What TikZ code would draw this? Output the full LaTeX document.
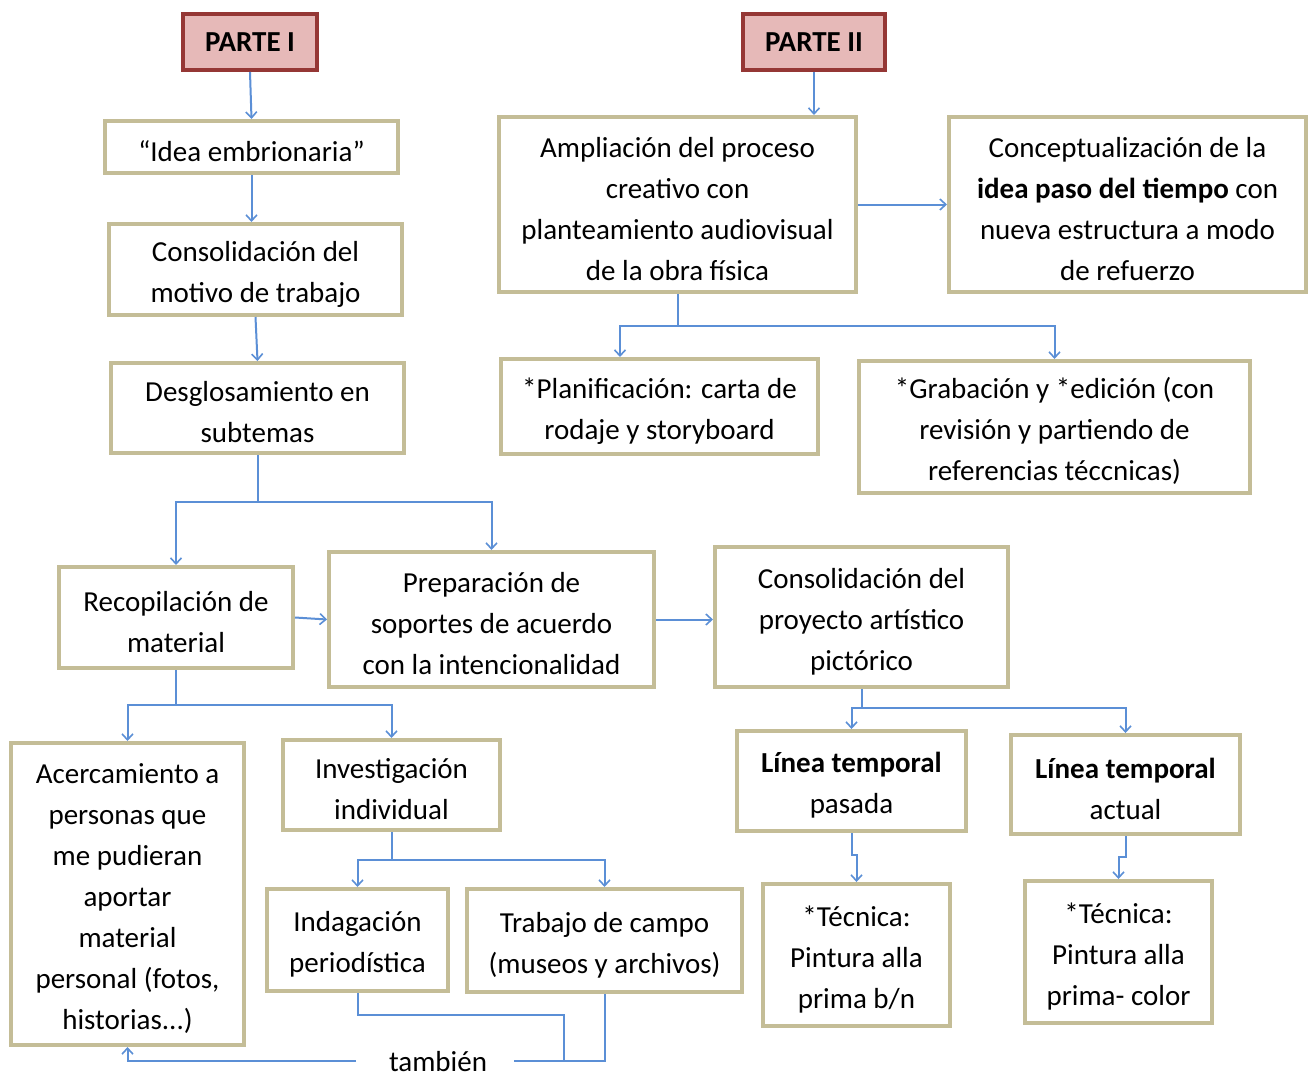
\documentclass[tikz,border=0pt]{standalone}
\usepackage{fontspec}
\setmainfont{Carlito}
\usetikzlibrary{arrows.meta}
\definecolor{tanb}{HTML}{C4BD97}
\definecolor{redb}{HTML}{953735}
\definecolor{redf}{HTML}{E6B9B8}
\definecolor{conb}{HTML}{5B8FD6}
\newcommand\tstr{\rule{0pt}{29pt}}
\begin{document}
\begin{tikzpicture}[x=1pt,y=-1pt,
  tbox/.style={draw=tanb, line width=4pt, fill=white, inner sep=0pt, align=center,
    font=\fontsize{29}{41}\selectfont},
  pbox/.style={draw=redb, line width=4pt, fill=redf, inner sep=0pt, align=center,
    font=\fontsize{29}{41}\selectfont\bfseries},
  conn/.style={draw=conb, line width=2pt, -{Straight Barb[length=6pt,width=11pt,line width=1.6pt]}},
  plain/.style={draw=conb, line width=2pt},
  lbl/.style={inner sep=2pt, font=\fontsize{29}{41}\selectfont}]
\useasboundingbox (0,0) rectangle (1312,1077);
\fill[white] (0,0) rectangle (1312,1077);

% boxes
\node[pbox, minimum width=134pt, minimum height=56pt] (p1) at (250,42) {PARTE I};
\node[pbox, minimum width=142pt, minimum height=56pt] (p2) at (814,42) {PARTE II};
\node[tbox, minimum width=293pt, minimum height=52pt] (idea) at (251.5,147) {\tstr “Idea embrionaria”};
\node[tbox, minimum width=293pt, minimum height=91pt] (cons) at (255.5,269.5) {\tstr Consolidación del\\motivo de trabajo};
\node[tbox, minimum width=293pt, minimum height=90pt] (desg) at (257.5,408) {\tstr Desglosamiento en\\subtemas};
\node[tbox, minimum width=357pt, minimum height=175pt] (ampl) at (677.5,204.5) {\tstr Ampliación del proceso\\creativo con\\planteamiento audiovisual\\de la obra física};
\node[tbox, minimum width=357pt, minimum height=175pt] (conc) at (1127.5,204.5) {\tstr Conceptualización de la\\\textbf{idea paso del tiempo} con\\nueva estructura a modo\\de refuerzo};
\node[tbox, minimum width=317pt, minimum height=95pt] (plan) at (659.5,406.5) {\tstr *Planificación: carta de\\rodaje y storyboard};
\node[tbox, minimum width=391pt, minimum height=132pt] (grab) at (1054.5,427) {\tstr *Grabación y *edición (con\\revisión y partiendo de\\referencias téccnicas)};
\node[tbox, minimum width=234pt, minimum height=101pt] (reco) at (176,617.5) {\tstr Recopilación de\\material};
\node[tbox, minimum width=325pt, minimum height=135pt] (prep) at (491.5,619.5) {\tstr Preparación de\\soportes de acuerdo\\con la intencionalidad};
\node[tbox, minimum width=293pt, minimum height=140pt] (proy) at (861.5,617) {\tstr Consolidación del\\proyecto artístico\\pictórico};
\node[tbox, minimum width=233pt, minimum height=302pt] (acer) at (127.5,894) {\tstr Acercamiento a\\personas que\\me pudieran\\aportar\\material\\personal (fotos,\\historias...)};
\node[tbox, minimum width=217pt, minimum height=90pt] (inve) at (391.5,785) {\tstr Investigación\\individual};
\node[tbox, minimum width=181pt, minimum height=102pt] (inda) at (357.5,940) {\tstr Indagación\\periodística};
\node[tbox, minimum width=275pt, minimum height=103pt] (trab) at (604.5,940.5) {\tstr Trabajo de campo\\(museos y archivos)};
\node[tbox, minimum width=229pt, minimum height=100pt] (lpas) at (851.5,781) {\tstr\textbf{Línea temporal}\\pasada};
\node[tbox, minimum width=229pt, minimum height=99pt] (lact) at (1125.5,784.5) {\tstr\textbf{Línea temporal}\\actual};
\node[tbox, minimum width=187pt, minimum height=142pt] (tbn) at (856.5,955) {\tstr *Técnica:\\Pintura alla\\prima b/n};
\node[tbox, minimum width=187pt, minimum height=142pt] (tcol) at (1118.5,952) {\tstr *Técnica:\\Pintura alla\\prima- color};
\node[lbl] (tamb) at (438,1062) {también};

% junction coordinates
\coordinate (j1) at (259,502);
\coordinate (j2) at (678,326);
\coordinate (j3) at (176,705);
\coordinate (j4) at (392,860);
\coordinate (j5) at (862,708);
\coordinate (jt) at (564,1061);
\coordinate (jl) at (356,1061);
\coordinate (jr) at (514,1061);

% connectors
\draw[conn] (p1.south) -- (idea.north);
\draw[conn] (idea.south) -- (idea.south |- cons.north);
\draw[conn] (cons.south) -- (desg.north);
\draw[conn] (desg.south) -- (desg.south |- j1) -| (reco.north);
\draw[conn] (desg.south |- j1) -| (prep.north);
\draw[conn] (reco.east) -- (prep.west);
\draw[conn] (prep.east) -- (prep.east -| proy.west);
\draw[conn] (p2.south) -- (p2.south |- ampl.north);
\draw[conn] (ampl.east) -- (conc.west);
\draw[conn] (ampl.south) -- (ampl.south |- j2) -| ([xshift=-39.5pt]plan.north);
\draw[conn] (ampl.south |- j2) -| (grab.north);
\draw[conn] (reco.south) -- (reco.south |- j3) -| (acer.north);
\draw[conn] (reco.south |- j3) -| (inve.north);
\draw[conn] (inve.south) -- (inve.south |- j4) -| (inda.north);
\draw[conn] (inve.south |- j4) -| (trab.north);
\draw[conn] (proy.south) -- (proy.south |- j5) -| (lpas.north);
\draw[conn] (proy.south |- j5) -| (lact.north);
\draw[conn] (lpas.south) -- ++(0,22) -| (tbn.north);
\draw[conn] (lact.south) -- ++(0,21) -| (tcol.north);
\draw[plain] (inda.south) -- ++(0,22) -| (jt);
\draw[plain] (trab.south) |- (jr);
\draw[conn] (jl) -| (acer.south);
\end{tikzpicture}
\end{document}
